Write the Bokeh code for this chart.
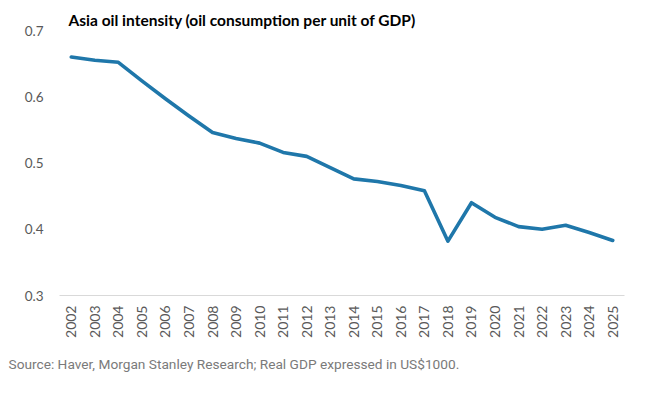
from bokeh.plotting import figure
from bokeh.models import FactorRange, Range1d, Title, FixedTicker
from bokeh.embed import file_html
from bokeh.resources import INLINE

years = [str(y) for y in range(2002, 2026)]
oil_intensity = [0.660, 0.655, 0.652, 0.624, 0.597, 0.571, 0.546, 0.537, 0.530,
                 0.516, 0.510, 0.493, 0.476, 0.472, 0.466, 0.458, 0.382, 0.440,
                 0.418, 0.404, 0.400, 0.406, 0.395, 0.383]
y_ticks = [0.3, 0.4, 0.5, 0.6, 0.7]

title_text = "Asia oil intensity (oil consumption per unit of GDP)"
source_text = "Source: Haver, Morgan Stanley Research; Real GDP expressed in US$1000."

p = figure(width=640, height=390, x_range=FactorRange(*years),
           y_range=Range1d(0.3, 0.7), output_backend="svg",
           toolbar_location=None, min_border_left=59, min_border_right=16,
           min_border_top=30, min_border_bottom=95)
p.title = None
p.outline_line_color = None
p.xgrid.visible = False
p.ygrid.visible = False
p.background_fill_color = "white"
p.border_fill_color = "white"

p.line(years, oil_intensity, line_color="#1f77aa", line_width=3.6,
       line_join="round", line_cap="round")

# axes
p.yaxis.ticker = FixedTicker(ticks=y_ticks)
p.yaxis.axis_line_color = None
p.yaxis.major_tick_line_color = None
p.yaxis.minor_tick_line_color = None
p.yaxis.major_label_text_font = "Lato"
p.yaxis.major_label_text_font_size = "13.5px"
p.yaxis.major_label_text_color = "#595959"
p.yaxis.major_label_standoff = 10

p.xaxis.axis_line_color = "#d9d9d9"
p.xaxis.axis_line_width = 1.2
p.xaxis.major_tick_line_color = None
p.xaxis.minor_tick_line_color = None
p.xaxis.major_label_orientation = 1.5708
p.xaxis.major_label_text_font = "Lato"
p.xaxis.major_label_text_font_size = "14px"
p.xaxis.major_label_text_color = "#595959"
p.xaxis.major_label_standoff = 4

t = Title(text=title_text, align="left", offset=9, text_font="Lato",
          text_font_size="15.5px", text_font_style="bold", text_color="#000000",
          standoff=4)
p.add_layout(t, "above")

s = Title(text=source_text, align="left", offset=-51, text_font="Roboto",
          text_font_size="13.7px", text_font_style="normal", text_color="#7a7a7a",
          standoff=27)
p.add_layout(s, "below")

open("out.html", "w").write(file_html(p, INLINE))
